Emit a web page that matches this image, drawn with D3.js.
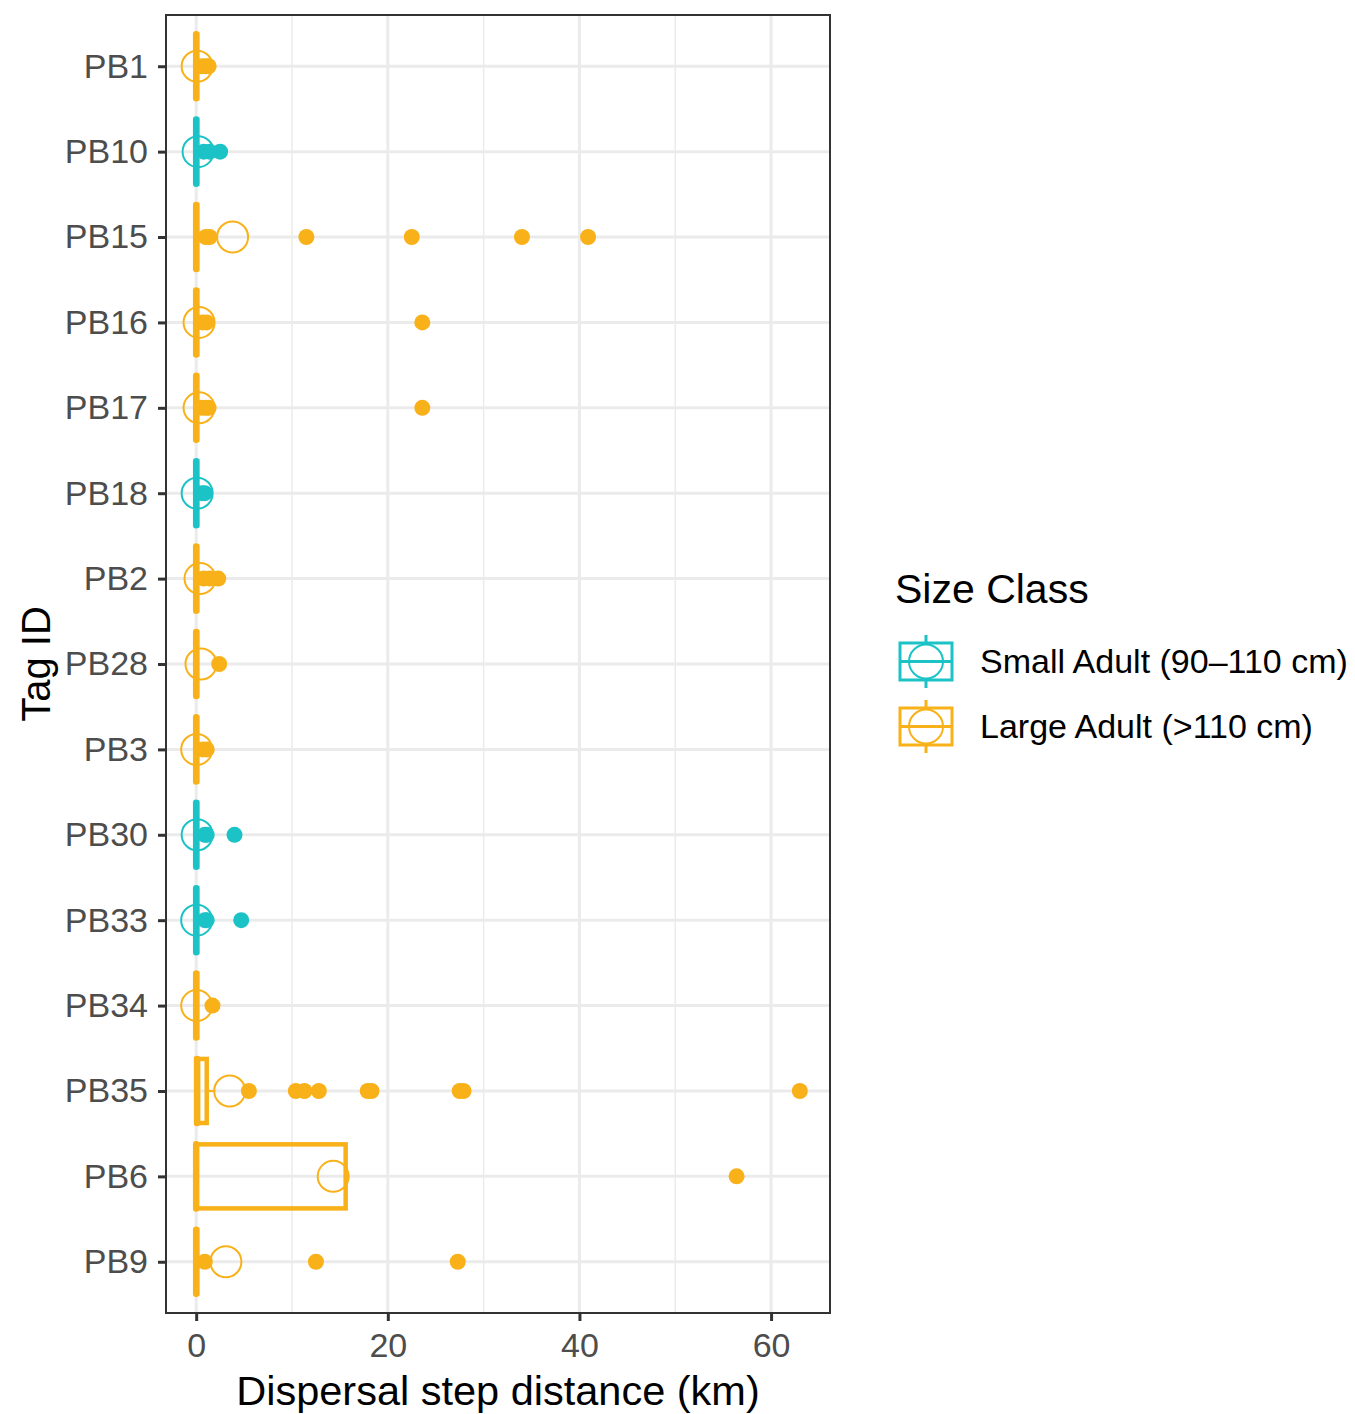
<!DOCTYPE html>
<html>
<head>
<meta charset="utf-8">
<script src="https://cdn.jsdelivr.net/npm/d3@7"></script>
<style>
	body { margin: 0; background: #fff; }
	text { font-family: "Liberation Sans", Arial, sans-serif; }
</style>
</head>
<body>
<div id="chart"></div>
<script>
// per tag summaries (km)
const tags = ["PB1", "PB10", "PB15", "PB16", "PB17", "PB18", "PB2", "PB28", "PB3", "PB30", "PB33", "PB34", "PB35", "PB6", "PB9"];
const sizeClass = ["Large", "Small", "Large", "Large", "Large", "Small", "Large", "Large", "Large", "Small", "Small", "Large", "Large", "Large", "Large"];
const q1 = [0, 0, 0, 0, 0, 0, 0, 0, 0, 0, 0, 0, 0, 0, 0];
const median = [0, 0, 0, 0, 0, 0, 0, 0, 0, 0, 0, 0, 0.1, 0, 0];
const q3 = [0.1, 0.1, 0.1, 0.1, 0.1, 0.1, 0.1, 0.1, 0.1, 0.1, 0.1, 0.1, 1.1, 15.6, 0.1];
const whiskerHi = [0.1, 0.1, 0.1, 0.1, 0.1, 0.1, 0.1, 0.1, 0.1, 0.1, 0.1, 0.1, 2.0, 15.6, 0.1];
const means = [0.1, 0.2, 3.8, 0.3, 0.3, 0.1, 0.4, 0.5, 0.05, 0.1, 0.05, 0.05, 3.5, 14.3, 3.1];
const outliers = [
	[0.6, 1.0, 1.3],
	[0.8, 1.4, 2.5],
	[1.0, 1.4, 11.5, 22.5, 34.0, 40.9],
	[0.7, 1.1, 23.6],
	[0.6, 1.0, 1.3, 23.6],
	[0.6, 0.9],
	[0.8, 1.4, 2.3],
	[2.4],
	[0.7, 1.1],
	[0.9, 1.1, 4.0],
	[0.9, 1.1, 4.7],
	[1.7],
	[5.5, 10.4, 11.3, 12.8, 17.9, 18.3, 27.5, 27.9, 63.0],
	[56.4],
	[0.9, 12.5, 27.3],
];
const classKeys = ["Small", "Large"];
const classLabels = ["Small Adult (90\u2013110 cm)", "Large Adult (>110 cm)"];
const classColors = ["#1bc3c7", "#f8b119"];
const xTicks = [0, 20, 40, 60];
const xMinor = [10, 30, 50];

const width = 1355, height = 1414;
const panel = { left: 166, right: 830, top: 15, bottom: 1313 };

const svg = d3.select("#chart").append("svg")
	.attr("width", width)
	.attr("height", height);
svg.append("rect").attr("width", width).attr("height", height).attr("fill", "#fff");

const x = d3.scaleLinear()
	.domain([-3.15, 66.15])
	.range([panel.left, panel.right]);
const y = d3.scalePoint()
	.domain(tags)
	.range([panel.top, panel.bottom])
	.padding(0.6);
const step = y.step();
const boxH = step * 0.75;
const color = d3.scaleOrdinal().domain(classKeys).range(classColors);

// grid
const grid = svg.append("g");
grid.selectAll(".minor").data(xMinor).enter().append("line")
	.attr("x1", d => x(d)).attr("x2", d => x(d))
	.attr("y1", panel.top).attr("y2", panel.bottom)
	.attr("stroke", "#ebebeb").attr("stroke-width", 1.5);
grid.selectAll(".majx").data(xTicks).enter().append("line")
	.attr("x1", d => x(d)).attr("x2", d => x(d))
	.attr("y1", panel.top).attr("y2", panel.bottom)
	.attr("stroke", "#ebebeb").attr("stroke-width", 3);
grid.selectAll(".majy").data(tags).enter().append("line")
	.attr("x1", panel.left).attr("x2", panel.right)
	.attr("y1", d => y(d)).attr("y2", d => y(d))
	.attr("stroke", "#ebebeb").attr("stroke-width", 3);

// boxplots
const rows = tags.map((t, i) => ({
	tag: t, cls: sizeClass[i], q1: q1[i], med: median[i], q3: q3[i],
	hi: whiskerHi[i], mean: means[i], out: outliers[i]
}));

const boxes = svg.append("g").selectAll("g").data(rows).enter().append("g")
	.attr("stroke", d => color(d.cls))
	.attr("fill", "none");
boxes.append("line")
	.attr("x1", d => x(d.q3)).attr("x2", d => x(d.hi))
	.attr("y1", d => y(d.tag)).attr("y2", d => y(d.tag))
	.attr("stroke-width", 2);
boxes.append("rect")
	.attr("x", d => x(d.q1))
	.attr("y", d => y(d.tag) - boxH / 2)
	.attr("width", d => x(d.q3) - x(d.q1))
	.attr("height", boxH)
	.attr("stroke-width", 4.5);
boxes.append("line")
	.attr("x1", d => x(d.med)).attr("x2", d => x(d.med))
	.attr("y1", d => y(d.tag) - boxH / 2).attr("y2", d => y(d.tag) + boxH / 2)
	.attr("stroke-width", 6.5)
	.attr("stroke-linecap", "round");

// outlier points
svg.append("g").selectAll("g").data(rows).enter().append("g")
	.attr("fill", d => color(d.cls))
	.selectAll("circle")
	.data(d => d.out.map(v => ({ v, tag: d.tag })))
	.enter().append("circle")
	.attr("cx", d => x(d.v))
	.attr("cy", d => y(d.tag))
	.attr("r", 8);

// means
svg.append("g").selectAll("circle").data(rows).enter().append("circle")
	.attr("cx", d => x(d.mean))
	.attr("cy", d => y(d.tag))
	.attr("r", 15.5)
	.attr("fill", "none")
	.attr("stroke", d => color(d.cls))
	.attr("stroke-width", 2);

// panel border
svg.append("rect")
	.attr("x", panel.left).attr("y", panel.top)
	.attr("width", panel.right - panel.left)
	.attr("height", panel.bottom - panel.top)
	.attr("fill", "none").attr("stroke", "#333").attr("stroke-width", 2);

// axes
const xAxis = svg.append("g")
	.attr("transform", `translate(0, ${panel.bottom})`)
	.call(d3.axisBottom(x).tickValues(xTicks).tickSize(8).tickPadding(12).tickFormat(d3.format("d")));
xAxis.select(".domain").remove();
xAxis.selectAll("line").attr("stroke", "#333").attr("stroke-width", 3);
xAxis.selectAll("text").attr("font-size", 34).attr("fill", "#4d4d4d")
	.attr("font-family", "Liberation Sans, Arial, sans-serif");

const yAxis = svg.append("g")
	.attr("transform", `translate(${panel.left}, 0)`)
	.call(d3.axisLeft(y).tickSize(8).tickPadding(10));
yAxis.select(".domain").remove();
yAxis.selectAll("line").attr("stroke", "#333").attr("stroke-width", 3);
yAxis.selectAll("text").attr("font-size", 34).attr("fill", "#4d4d4d")
	.attr("font-family", "Liberation Sans, Arial, sans-serif");

svg.append("text")
	.attr("x", (panel.left + panel.right) / 2)
	.attr("y", 1405)
	.attr("text-anchor", "middle")
	.attr("font-size", 41.5)
	.text("Dispersal step distance (km)");
svg.append("text")
	.attr("transform", `translate(50, ${(panel.top + panel.bottom) / 2}) rotate(-90)`)
	.attr("text-anchor", "middle")
	.attr("font-size", 40)
	.text("Tag ID");

// legend
const legend = svg.append("g").attr("transform", "translate(895, 0)");
legend.append("text")
	.attr("x", 0).attr("y", 603)
	.attr("font-size", 41)
	.text("Size Class");
const keyTop = [643, 708];
const keys = legend.selectAll(".key").data(classKeys).enter().append("g")
	.attr("transform", (d, i) => `translate(0, ${keyTop[i]})`);
keys.each(function (d, i) {
	const g = d3.select(this).attr("stroke", classColors[i]).attr("fill", "none");
	g.append("line").attr("x1", 31).attr("x2", 31).attr("y1", -8).attr("y2", 0).attr("stroke-width", 3);
	g.append("line").attr("x1", 31).attr("x2", 31).attr("y1", 37).attr("y2", 45).attr("stroke-width", 3);
	g.append("rect").attr("x", 5).attr("y", 0).attr("width", 52).attr("height", 37).attr("stroke-width", 3);
	g.append("line").attr("x1", 5).attr("x2", 57).attr("y1", 18.5).attr("y2", 18.5).attr("stroke-width", 3);
	g.append("circle").attr("cx", 31).attr("cy", 18.5).attr("r", 17).attr("stroke-width", 2);
	d3.select(this).append("text")
		.attr("x", 85).attr("y", 30)
		.attr("stroke", "none").attr("fill", "#000")
		.attr("font-size", 34)
		.text(classLabels[i]);
});
</script>
</body>
</html>
